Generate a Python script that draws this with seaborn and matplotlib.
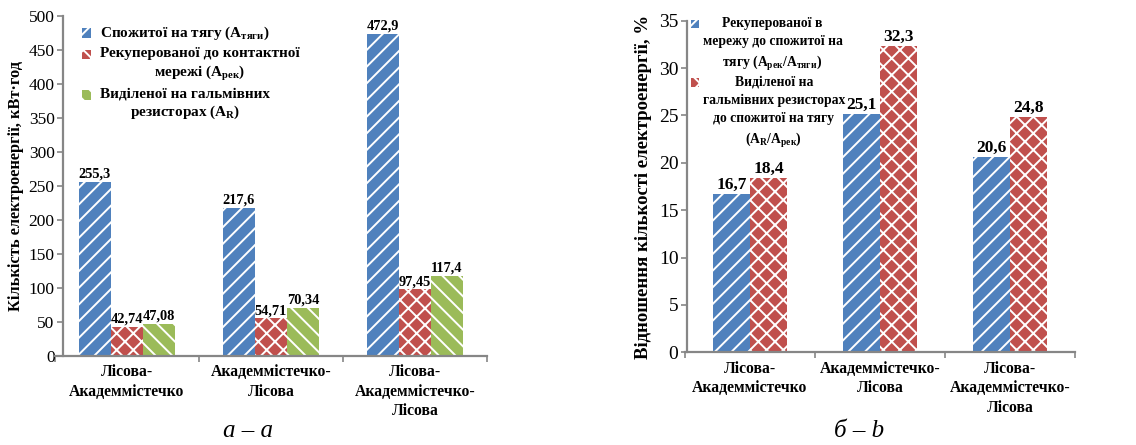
import numpy as np
import pandas as pd
import matplotlib
matplotlib.use("Agg")
import matplotlib.pyplot as plt
from matplotlib.container import BarContainer
from matplotlib.legend_handler import HandlerPatch
from matplotlib.patches import Rectangle
import seaborn as sns

# дані
routes = ["Лісова-\nАкадеммістечко", "Академмістечко-\nЛісова",
          "Лісова-\nАкадеммістечко-\nЛісова"]
consumed = [255.3, 217.6, 472.9]
recuperated = [42.74, 54.71, 97.45]
resistors = [47.08, 70.34, 117.4]
ratio_rec = [16.7, 25.1, 20.6]
ratio_res = [18.4, 32.3, 24.8]

labels_a = ["Спожитої на тягу ($A_{тяги}$)",
            "Рекуперованої до контактної\nмережі ($A_{рек}$)",
            "Виділеної на гальмівних\nрезисторах ($A_R$)"]
labels_b = ["Рекуперованої в\nмережу до спожитої на\nтягу ($A_{рек}/A_{тяги}$)",
            "Виділеної на\nгальмівних резисторах\nдо спожитої на тягу\n($A_R/A_{рек}$)"]

blue, red, green = "#4F81BD", "#C0504D", "#9BBB59"
grey = "#868686"

sns.set_theme(style="white")
plt.rcParams["font.family"] = ["Liberation Serif", "DejaVu Serif"]
plt.rcParams["text.color"] = "black"
plt.rcParams["axes.labelcolor"] = "black"
plt.rcParams["mathtext.fontset"] = "custom"
plt.rcParams["mathtext.rm"] = "Liberation Serif:bold"
plt.rcParams["mathtext.it"] = "Liberation Serif:bold:italic"
plt.rcParams["mathtext.bf"] = "Liberation Serif:bold"
plt.rcParams["mathtext.default"] = "rm"
plt.rcParams["hatch.linewidth"] = 1.4

W, H = 1136, 445


def fmt(v):
    return f"{v:g}".replace(".", ",")


def style_axes(ax, ymax, ystep, tick_fs, xlab_fs, spine_x):
    ax.set_ylim(0, ymax)
    ax.set_yticks(np.arange(0, ymax + 0.1, ystep))
    ax.set_xlim(-0.5, len(routes) - 0.5)
    ax.set_xticks(range(len(routes)))
    ax.set_xticklabels(routes, fontweight="bold", fontsize=xlab_fs,
                       linespacing=1.3)
    ax.set_xticks(np.arange(-0.5, len(routes)), minor=True)
    ax.tick_params(axis="x", which="major", length=0, pad=6, labelcolor="black")
    ax.tick_params(axis="x", which="minor", length=4, color=grey, width=1.2,
                   direction="out", bottom=True)
    ax.tick_params(axis="y", length=4, color=grey, width=1.2, direction="out",
                   left=True, labelsize=tick_fs, pad=2, labelcolor="black")
    sns.despine(ax=ax)
    ax.spines["left"].set_position(("data", spine_x))
    for s in ("left", "bottom"):
        ax.spines[s].set_color(grey)
        ax.spines[s].set_linewidth(1.6)
    ax.set_xlabel("")


def small_square(legend, orig_handle, xdescent, ydescent, width, height, fontsize):
    # невеликий квадрат по центру першого рядка
    s = 0.62 * fontsize
    return Rectangle((-xdescent + (width - s) / 2, -ydescent + height - s - 0.2 * fontsize),
                     s, s)


def bar_first(legend_handle, orig_handle):
    legend_handle.update_from(orig_handle.patches[0])


handler = {BarContainer: HandlerPatch(patch_func=small_square, update_func=bar_first)}


def top_align(leg, ls):
    # маркер легенди навпроти першого рядка підпису
    for col in leg._legend_handle_box.get_children():
        for row in col.get_children():
            row.align = "top"
    for t in leg.get_texts():
        t.set_fontweight("bold")
        t.set_multialignment("center")
        t.set_linespacing(ls)


fig = plt.figure(figsize=(W / 100, H / 100), dpi=100)
ax1 = fig.add_axes([55 / W, 1 - 355.7 / H, 432 / W, 340 / H])
ax2 = fig.add_axes([685 / W, 1 - 352.3 / H, 390 / W, 331.6 / H])

# --- а: кількість електроенергії
df_a = pd.DataFrame({
    "route": routes * 3,
    "value": consumed + recuperated + resistors,
    "series": [labels_a[0]] * 3 + [labels_a[1]] * 3 + [labels_a[2]] * 3,
})
sns.barplot(data=df_a, x="route", y="value", hue="series",
            palette=[blue, red, green], saturation=1, width=0.667,
            edgecolor="white", linewidth=0, ax=ax1, legend=False)
for cont, h, vals in zip(ax1.containers, ["//", "xx", "\\\\"],
                         [consumed, recuperated, resistors]):
    for p in cont.patches:
        p.set_hatch(h)
    ax1.bar_label(cont, labels=[fmt(v) for v in vals], padding=1,
                  fontweight="bold", fontsize=10.4)
style_axes(ax1, 500, 50, 12.5, 11.3, -0.5 + 8 / 144)
ax1.set_ylabel("Кількість електроенергії, кВт·год", fontweight="bold",
               fontsize=11.8, labelpad=3)
leg1 = ax1.legend(ax1.containers, labels_a, loc="upper left",
                  bbox_to_anchor=(81 / W, 1 - 25 / H),
                  bbox_transform=fig.transFigure, frameon=False, fontsize=11,
                  handlelength=0.75, handleheight=1.0, handletextpad=0.5,
                  labelspacing=0.3, borderpad=0, borderaxespad=0,
                  handler_map=handler)
top_align(leg1, 1.3)

# --- б: відношення
df_b = pd.DataFrame({
    "route": routes * 2,
    "value": ratio_rec + ratio_res,
    "series": [labels_b[0]] * 3 + [labels_b[1]] * 3,
})
sns.barplot(data=df_b, x="route", y="value", hue="series",
            palette=[blue, red], saturation=1, width=0.575,
            edgecolor="white", linewidth=0, ax=ax2, legend=False)
for cont, h, vals in zip(ax2.containers, ["//", "xx"], [ratio_rec, ratio_res]):
    for p in cont.patches:
        p.set_hatch(h)
    ax2.bar_label(cont, labels=[fmt(v) for v in vals], padding=1,
                  fontweight="bold", fontsize=12.5)
style_axes(ax2, 35, 5, 14, 11.3, -0.5 + 1.7 / 130)
ax2.set_ylabel("Відношення кількості електроенергії, %", fontweight="bold",
               fontsize=13.5, labelpad=5)
leg2 = ax2.legend(ax2.containers, labels_b, loc="upper left",
                  bbox_to_anchor=(689 / W, 1 - 17 / H),
                  bbox_transform=fig.transFigure, frameon=False, fontsize=9.8,
                  handlelength=0.9, handleheight=1.0, handletextpad=0.1,
                  labelspacing=0.15, borderpad=0, borderaxespad=0,
                  handler_map=handler)
top_align(leg2, 1.5)

fig.text(248 / W, 1 - 431 / H, "а – a", style="italic", fontsize=18,
         ha="center", va="center")
fig.text(859 / W, 1 - 431 / H, "б – b", style="italic", fontsize=18,
         ha="center", va="center")

fig.savefig("out.png", dpi=100)
